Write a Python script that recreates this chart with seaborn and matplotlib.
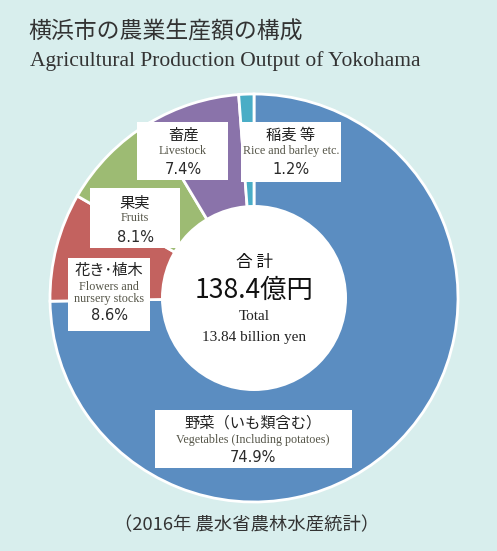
import matplotlib
matplotlib.use("Agg")
import matplotlib.pyplot as plt
from matplotlib.patches import Circle, Rectangle
import seaborn as sns

# data
labels_ja = ["野菜（いも類含む）", "花き･植木", "果実", "畜産", "稲麦 等"]
labels_en = ["Vegetables (Including potatoes)", "Flowers and\nnursery stocks", "Fruits",
             "Livestock", "Rice and barley etc."]
shares = [74.9, 8.6, 8.1, 7.4, 1.2]
colors = ["#5b8dc1", "#c3625f", "#9dbb73", "#8a73aa", "#4aadc6"]
total_ja = "138.4億円"
total_en = "13.84 billion yen"

sns.set_theme(style="white")
JP = ["Noto Sans CJK JP", "DejaVu Sans"]
SERIF = ["Liberation Serif", "DejaVu Serif"]
plt.rcParams["font.family"] = JP

W, H = 497, 551
BG = "#d8eeed"
fig = plt.figure(figsize=(W / 100, H / 100), dpi=100, facecolor=BG)
ax = fig.add_axes([0, 0, 1, 1])
ax.set_facecolor(BG)


def Y(py):
    return H - py


cx, cy, r_out, r_in = 254, 298, 204, 93
ax.pie(shares, colors=colors, startangle=90, counterclock=False,
       center=(cx, Y(cy)), radius=r_out,
       wedgeprops=dict(edgecolor="white", linewidth=2))
ax.add_patch(Circle((cx, Y(cy)), r_in, facecolor="white", edgecolor="none", zorder=5))

# label boxes: (left, top, right, bottom) in pixels, text rows y
boxes = [
    ((155, 410, 352, 468), 253, (423, 440, None, 458)),
    ((68, 258, 150, 331), 109, (270, 287, 299, 316)),
    ((90, 188, 180, 248), 135, (203, 218, None, 237)),
    ((137, 122, 228, 180), 183, (135, 151, None, 169)),
    ((241, 122, 341, 182), 291, (135, 151, None, 169)),
]
for i, ((l, t, rr, b), x, rows) in enumerate(boxes):
    ax.add_patch(Rectangle((l, Y(b)), rr - l, b - t, facecolor="white",
                           edgecolor="none", zorder=6))
    ax.text(x, Y(rows[0]), labels_ja[i], ha="center", va="center", fontsize=11,
            color="#222222", family=JP, zorder=7)
    en = labels_en[i].split("\n")
    ax.text(x, Y(rows[1]), en[0], ha="center", va="center", fontsize=8.7,
            color="#555548", family=SERIF, zorder=7)
    if len(en) > 1:
        ax.text(x, Y(rows[2]), en[1], ha="center", va="center", fontsize=8.7,
                color="#555548", family=SERIF, zorder=7)
    ax.text(x, Y(rows[3]), f"{shares[i]}%", ha="center", va="center", fontsize=10.5,
            color="#2a2a2a", family=["DejaVu Sans"], zorder=7)

# center text
ax.text(cx, Y(262), "合 計", ha="center", va="center", fontsize=12, color="#111111", zorder=7)
ax.text(cx, Y(290), total_ja, ha="center", va="center", fontsize=19, color="#111111", zorder=7)
ax.text(cx, Y(317), "Total", ha="center", va="center", fontsize=11, color="#222222",
        family=SERIF, zorder=7)
ax.text(cx, Y(337), total_en, ha="center", va="center", fontsize=11, color="#222222",
        family=SERIF, zorder=7)

# titles and source
ax.text(28, Y(32), "横浜市の農業生産額の構成", ha="left", va="center", fontsize=16.5,
        color="#333333")
ax.text(30, Y(61), "Agricultural Production Output of Yokohama", ha="left", va="center",
        fontsize=15.5, color="#333333", family=SERIF)
ax.text(114, Y(525), "（2016年 農水省農林水産統計）", ha="left", va="center", fontsize=13.2,
        color="#333333")

ax.set_xlim(0, W)
ax.set_ylim(0, H)
ax.axis("off")
fig.savefig("out.png", dpi=100, facecolor=BG)
